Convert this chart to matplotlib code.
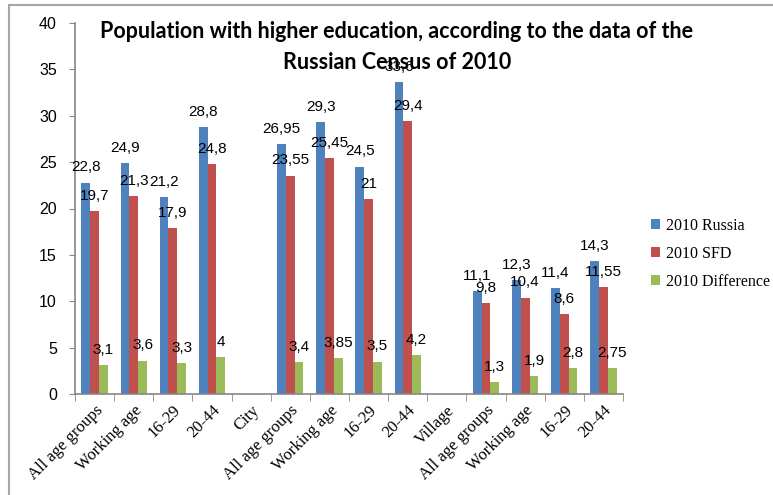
import numpy as np
import matplotlib.pyplot as plt
from matplotlib.patches import Rectangle

# categories (City and Village are empty separator groups)
categories = ['All age groups', 'Working age', '16-29', '20-44', 'City',
              'All age groups', 'Working age', '16-29', '20-44', 'Village',
              'All age groups', 'Working age', '16-29', '20-44']
russia = [22.8, 24.9, 21.2, 28.8, np.nan, 26.95, 29.3, 24.5, 33.6, np.nan, 11.1, 12.3, 11.4, 14.3]
sfd = [19.7, 21.3, 17.9, 24.8, np.nan, 23.55, 25.45, 21, 29.4, np.nan, 9.8, 10.4, 8.6, 11.55]
difference = [3.1, 3.6, 3.3, 4, np.nan, 3.4, 3.85, 3.5, 4.2, np.nan, 1.3, 1.9, 2.8, 2.75]

series = [('2010 Russia', russia, '#4F81BD'),
          ('2010 SFD', sfd, '#C0504D'),
          ('2010 Difference', difference, '#9BBB59')]

fig = plt.figure(figsize=(7.73, 4.95), dpi=100)
ax = fig.add_axes([75/773, 1 - 394/495, 548/773, 371/495])

# gray frame around the chart
fig.patches.append(Rectangle((9/773, -0.1), 1.2, 1 - 5/495 + 0.1, transform=fig.transFigure,
                             fill=False, edgecolor='#A6A6A6', linewidth=1.5))

x = np.arange(len(categories))
w = 0.225
label_font = 'Liberation Sans'

for i, (name, vals, color) in enumerate(series):
    pos = x + (i - 1) * w
    ax.bar(pos, vals, w, color=color, label=name)
    for px, v in zip(pos, vals):
        if np.isnan(v):
            continue
        txt = f'{v:g}'.replace('.', ',')
        ax.annotate(txt, (px, v), xytext=(0, 6), textcoords='offset points',
                    ha='center', va='bottom', fontsize=11, family=label_font)

ax.set_xlim(-0.5, len(categories) - 0.5)
ax.set_ylim(0, 40)
ax.set_yticks(range(0, 41, 5))
ax.tick_params(axis='y', direction='out', length=4, pad=9, color='#868686', labelsize=11.5)
for t in ax.get_yticklabels():
    t.set_family(label_font)

ax.set_xticks(x)
ax.set_xticklabels(categories, rotation=45, ha='right', rotation_mode='anchor',
                   family='Liberation Serif', fontsize=12)
ax.tick_params(axis='x', which='major', length=0, pad=6)
ax.set_xticks(np.arange(-0.5, len(categories)), minor=True)
ax.tick_params(axis='x', which='minor', direction='out', length=5, color='#868686')

for s in ['top', 'right']:
    ax.spines[s].set_visible(False)
for s in ['left', 'bottom']:
    ax.spines[s].set_color('#868686')
    ax.spines[s].set_linewidth(1.2)

leg = fig.legend(loc='upper left', bbox_to_anchor=(641/773, 1 - 208/495), frameon=False,
                 prop={'family': 'Liberation Serif', 'size': 11.5},
                 handlelength=0.6, handleheight=0.6, handletextpad=0.35, labelspacing=0.75,
                 borderaxespad=0.2)

fig.text(397/773, 1 - 47/495,
         'Population with higher education, according to the data of the\nRussian Census of 2010',
         ha='center', va='center', fontsize=15.5, fontweight='bold', family='Lato',
         linespacing=1.55)

plt.savefig('out.png', dpi=100)
plt.close()
